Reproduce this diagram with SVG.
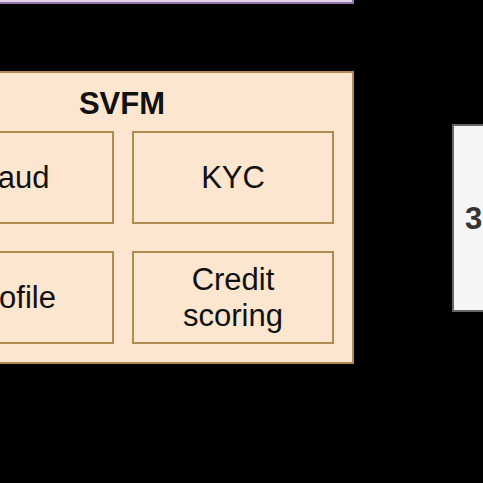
<svg xmlns="http://www.w3.org/2000/svg" width="483" height="483" viewBox="0 0 483 483">
<style>
.orange{fill:#fce6cf;stroke:#b08c52;stroke-width:2}
.t{font-family:"Liberation Sans",Arial,sans-serif;font-size:31px;fill:#111;text-anchor:middle}
.b{font-weight:bold}
</style>
<rect x="0" y="0" width="483" height="483" fill="#000"/>
<g id="top-box">
<rect x="-20" y="-60" width="373" height="63" fill="#e1d5e7" stroke="#9673a6" stroke-width="2"/>
</g>
<g id="svfm">
<rect class="orange" x="-110" y="72" width="463" height="291"/>
<text class="t b" x="122" y="114">SVFM</text>
</g>
<g id="fraud">
<rect class="orange" x="-87" y="132" width="200" height="91"/>
<text class="t" x="9" y="188">Fraud</text>
</g>
<g id="kyc">
<rect class="orange" x="133" y="132" width="200" height="91"/>
<text class="t" x="233" y="188">KYC</text>
</g>
<g id="profile">
<rect class="orange" x="-87" y="252" width="200" height="91"/>
<text class="t" x="12" y="308">Profile</text>
</g>
<g id="credit">
<rect class="orange" x="133" y="252" width="200" height="91"/>
<text class="t" x="233" y="290">Credit</text>
<text class="t" x="233" y="326">scoring</text>
</g>
<g id="right-box">
<rect x="453" y="125" width="160" height="186" fill="#f5f5f5" stroke="#666" stroke-width="2"/>
<text class="t b" x="465" y="229" style="text-anchor:start;fill:#333">3</text>
</g>
<g id="connectors"></g>
</svg>
